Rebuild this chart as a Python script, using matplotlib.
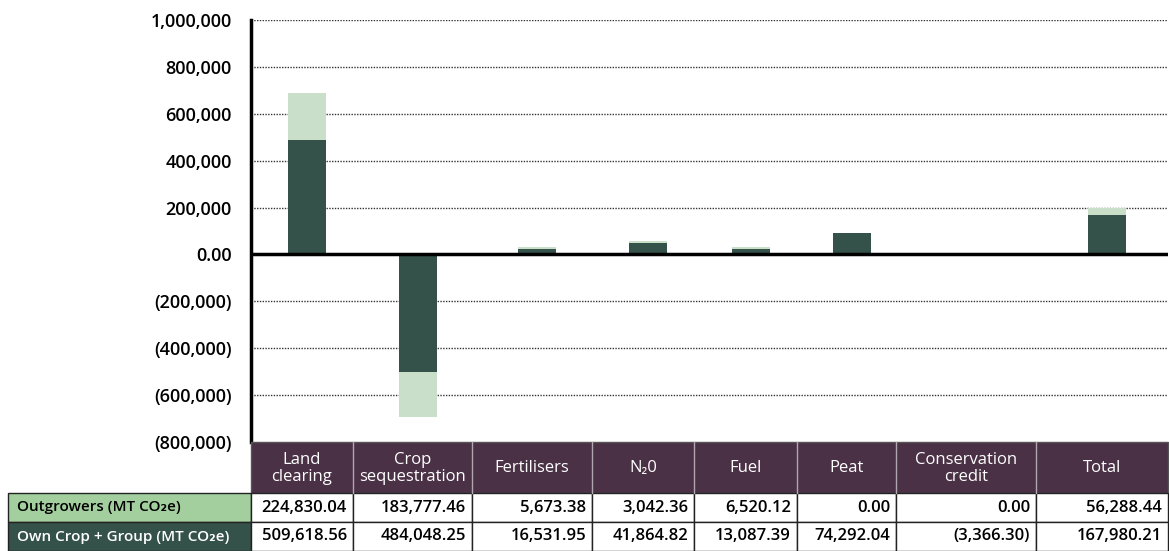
import matplotlib.pyplot as plt
from matplotlib.ticker import FuncFormatter
from matplotlib.patches import Rectangle

plt.rcParams['font.family'] = ['Open Sans', 'DejaVu Sans']

categories = ['Land\nclearing', 'Crop\nsequestration', 'Fertilisers', 'N\u20820', 'Fuel',
              'Peat', 'Conservation\ncredit', 'Total']
# bar heights as drawn in the chart
own_crop = [490000, -500000, 23000, 48000, 23000, 91000, 0, 168000]
outgrowers = [197000, -195000, 8000, 9000, 8000, 0, 0, 32000]

# table values
row_labels = ['Outgrowers (MT CO\u2082e)', 'Own Crop + Group (MT CO\u2082e)']
outgrowers_row = ['224,830.04', '183,777.46', '5,673.38', '3,042.36', '6,520.12',
                  '0.00', '0.00', '56,288.44']
own_crop_row = ['509,618.56', '484,048.25', '16,531.95', '41,864.82', '13,087.39',
                '74,292.04', '(3,366.30)', '167,980.21']
yticks = [-800000, -600000, -400000, -200000, 0, 200000, 400000, 600000, 800000, 1000000]

DARK = '#34514a'
LIGHT = '#cadfc9'
PLUM = '#4b3146'
ROW1 = '#a3cf9e'

W, H = 1169, 551
# table column edges in pixels
edges = [251, 353, 472, 592, 694, 797, 896, 1036, 1168]
centers = [(a + b) / 2 + 5 for a, b in zip(edges[:-1], edges[1:])]
ax_top, ax_bot = 20, 442

fig = plt.figure(figsize=(W / 100, H / 100), dpi=100)
ax = fig.add_axes([edges[0] / W, 1 - ax_bot / H, (edges[-1] - edges[0]) / W, (ax_bot - ax_top) / H])

ax.bar(centers, own_crop, width=38, color=DARK, zorder=3)
ax.bar(centers, outgrowers, width=38, bottom=own_crop, color=LIGHT, zorder=3)

ax.set_xlim(edges[0], edges[-1])
ax.set_ylim(-800000, 1000000)
ax.set_yticks(yticks)
ax.yaxis.set_major_formatter(FuncFormatter(
    lambda v, p: '0.00' if v == 0 else ('({:,.0f})'.format(-v) if v < 0 else '{:,.0f}'.format(v))))
ax.tick_params(axis='y', length=0, pad=14, labelsize=13)
for t in ax.get_yticklabels():
    t.set_fontweight('semibold')
ax.set_xticks([])
for y in yticks:
    if y != 0 and y != -800000:
        ax.axhline(y, color='#333333', lw=1, ls=(0, (1, 1)), zorder=1)
ax.axhline(0, color='black', lw=2.5, zorder=4)
for s in ['top', 'right', 'bottom']:
    ax.spines[s].set_visible(False)
ax.spines['left'].set_linewidth(2.5)

# data table drawn underneath
tab = fig.add_axes([0, 0, 1, 1])
tab.set_xlim(0, W)
tab.set_ylim(H, 0)
tab.axis('off')

hdr_top, hdr_bot, r1_bot, r2_bot = 442, 493, 522, 551
tab.add_patch(Rectangle((edges[0], hdr_top), edges[-1] - edges[0], hdr_bot - hdr_top,
                        facecolor=PLUM, edgecolor='#555555', lw=1))
for i, name in enumerate(categories):
    tab.text((edges[i] + edges[i + 1]) / 2, (hdr_top + hdr_bot) / 2 + 1, name, color='white',
             fontsize=12, ha='center', va='center', linespacing=1.1)
    if i > 0:
        tab.plot([edges[i], edges[i]], [hdr_top, hdr_bot], color='#b0a6ae', lw=1)

tab.add_patch(Rectangle((8, hdr_bot), edges[0] - 8, r1_bot - hdr_bot,
                        facecolor=ROW1, edgecolor='#222222', lw=1))
tab.add_patch(Rectangle((8, r1_bot), edges[0] - 8, r2_bot - r1_bot,
                        facecolor=DARK, edgecolor='#222222', lw=1))
tab.text(17, (hdr_bot + r1_bot) / 2, row_labels[0], color='black', fontsize=11,
         fontweight='semibold', ha='left', va='center')
tab.text(17, (r1_bot + r2_bot) / 2, row_labels[1], color='white', fontsize=11,
         fontweight='semibold', ha='left', va='center')

for row, (top, bot) in zip([outgrowers_row, own_crop_row], [(hdr_bot, r1_bot), (r1_bot, r2_bot)]):
    for i, val in enumerate(row):
        tab.add_patch(Rectangle((edges[i], top), edges[i + 1] - edges[i], bot - top,
                                facecolor='white', edgecolor='#222222', lw=1))
        tab.text(edges[i + 1] - 6, (top + bot) / 2, val, color='black', fontsize=12,
                 fontweight='semibold', ha='right', va='center')

fig.savefig('out.png', dpi=100)
